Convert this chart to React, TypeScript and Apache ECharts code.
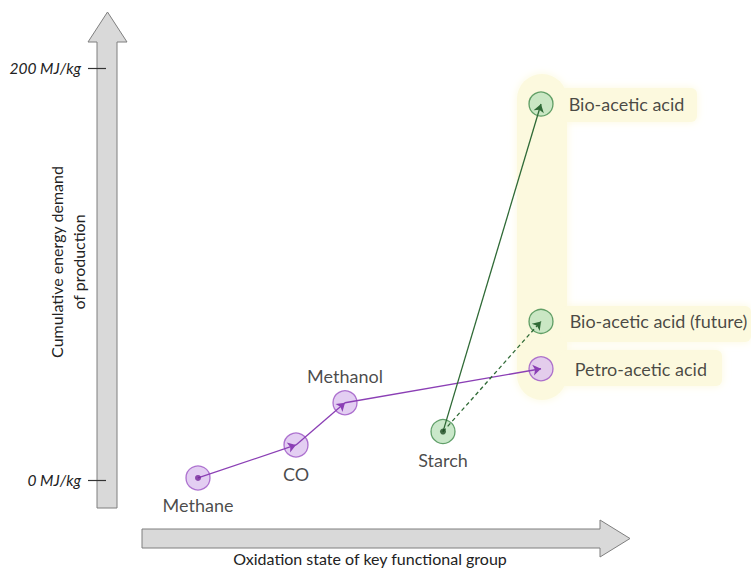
import React, { useEffect, useRef } from "react";
import * as echarts from "echarts";

// ---- data ----
const compounds = ["Methane", "CO", "Methanol", "Starch", "Petro-acetic acid", "Bio-acetic acid (future)", "Bio-acetic acid"];
const oxidationPos = [2, 4, 5, 7, 9, 9, 9];
const energyMJ = [1, 17, 37.5, 23.5, 54, 77, 182.5];
const group = ["petro", "petro", "petro", "bio", "petro", "bio", "bio"];
const labelPlace = ["bottom", "bottom", "top", "bottom", "right", "right", "right"];
const labelGap = [5, 7, 5, 7, 21, 16, 15];
const startNodes = ["Methane", "Starch"];
const links = [
  { from: "Methane", to: "CO", kind: "petro", dashed: false },
  { from: "CO", to: "Methanol", kind: "petro", dashed: false },
  { from: "Methanol", to: "Petro-acetic acid", kind: "petro", dashed: false },
  { from: "Starch", to: "Bio-acetic acid", kind: "bio", dashed: false },
  { from: "Starch", to: "Bio-acetic acid (future)", kind: "bio", dashed: true },
];
const yTicks = [0, 200];
const yTickUnit = " MJ/kg";
const yTitle = "Cumulative energy demand\nof production";
const xTitle = "Oxidation state of key functional group";

const FONT = "Lato, 'Open Sans', sans-serif";
const colors: Record<string, { fill: string; stroke: string; line: string; dot: string }> = {
  petro: { fill: "#dcc2ef", stroke: "#9b52c4", line: "#8b3fb5", dot: "#74269a" },
  bio: { fill: "#bde2bd", stroke: "#3f8a4a", line: "#2f6a36", dot: "#1d4a22" },
};

function pt(name: string) {
  const i = compounds.indexOf(name);
  return [oxidationPos[i], energyMJ[i]];
}

export default function App() {
  const ref = useRef<HTMLDivElement>(null);
  useEffect(() => {
    if (!ref.current) return;
    const chart = echarts.init(ref.current, undefined, { renderer: "svg" });
    const yellow = "#fcf9de";
    chart.setOption({
      animation: false,
      backgroundColor: "#ffffff",
      grid: { left: 100, right: 14, top: 68, bottom: 88 },
      xAxis: { type: "value", min: 0, max: 13, show: false },
      yAxis: {
        type: "value",
        min: yTicks[0],
        max: yTicks[yTicks.length - 1],
        interval: yTicks[1] - yTicks[0],
        offset: -6,
        axisLine: { show: false },
        axisTick: { show: true, length: 18, lineStyle: { color: "#333", width: 1.2 } },
        splitLine: { show: false },
        axisLabel: {
          margin: 25,
          formatter: (v: number) => v + yTickUnit,
          fontStyle: "italic",
          fontSize: 15.5,
          color: "#222",
          fontFamily: FONT,
        },
        z: 5,
      },
      graphic: [
        // highlight glow
        { type: "rect", z: -20, shape: { x: 517, y: 74, width: 50, height: 326, r: 25 }, style: { fill: yellow, shadowBlur: 8, shadowColor: yellow } },
        { type: "rect", z: -20, shape: { x: 560, y: 88, width: 137, height: 34, r: 6 }, style: { fill: yellow, shadowBlur: 8, shadowColor: yellow } },
        { type: "rect", z: -20, shape: { x: 560, y: 306, width: 191, height: 36, r: 6 }, style: { fill: yellow, shadowBlur: 8, shadowColor: yellow } },
        { type: "rect", z: -20, shape: { x: 560, y: 350, width: 162, height: 36, r: 6 }, style: { fill: yellow, shadowBlur: 8, shadowColor: yellow } },
        // axis arrows
        {
          type: "polygon",
          z: -10,
          shape: { points: [[97, 508], [97, 42], [88, 42], [107.5, 12], [127, 42], [117, 42], [117, 508]] },
          style: { fill: "#d9d9d9", stroke: "#7f7f7f", lineWidth: 1 },
        },
        {
          type: "polygon",
          z: -10,
          shape: { points: [[142, 529], [600, 529], [600, 520], [630, 538.5], [600, 557], [600, 548], [142, 548]] },
          style: { fill: "#d9d9d9", stroke: "#7f7f7f", lineWidth: 1 },
        },
        {
          type: "text",
          x: 67,
          y: 262,
          rotation: Math.PI / 2,
          style: { text: yTitle, fontSize: 16, fontFamily: FONT, fill: "#222", align: "center", verticalAlign: "middle", lineHeight: 22 },
        },
        {
          type: "text",
          x: 370,
          y: 558,
          style: { text: xTitle, fontSize: 16, fontFamily: FONT, fill: "#222", align: "center", verticalAlign: "middle" },
        },
      ],
      series: [
        {
          type: "scatter",
          z: 2,
          symbolSize: 24,
          data: compounds.map((n, i) => ({
            value: [oxidationPos[i], energyMJ[i]],
            itemStyle: { color: colors[group[i]].fill, borderColor: colors[group[i]].stroke, borderWidth: 1.3 },
            label: {
              show: true,
              formatter: n,
              position: labelPlace[i],
              distance: labelGap[i],
              fontSize: 18,
              fontFamily: FONT,
              color: "#1a1a1a",
            },
          })),
        },
        {
          type: "lines",
          coordinateSystem: "cartesian2d",
          z: 3,
          symbol: ["none", "arrow"],
          symbolSize: 8,
          data: links.map((l) => ({
            coords: [pt(l.from), pt(l.to)],
            lineStyle: { color: colors[l.kind].line, width: 1.3, type: l.dashed ? [4, 3] : "solid", opacity: 1 },
          })),
        },
        {
          type: "scatter",
          z: 4,
          symbolSize: 6,
          silent: true,
          data: startNodes.map((n) => {
            const i = compounds.indexOf(n);
            return { value: [oxidationPos[i], energyMJ[i]], itemStyle: { color: colors[group[i]].dot } };
          }),
        },
      ],
    });
    return () => chart.dispose();
  }, []);
  return <div ref={ref} style={{ position: "absolute", left: 0, top: 0, width: 751, height: 568 }} />;
}
